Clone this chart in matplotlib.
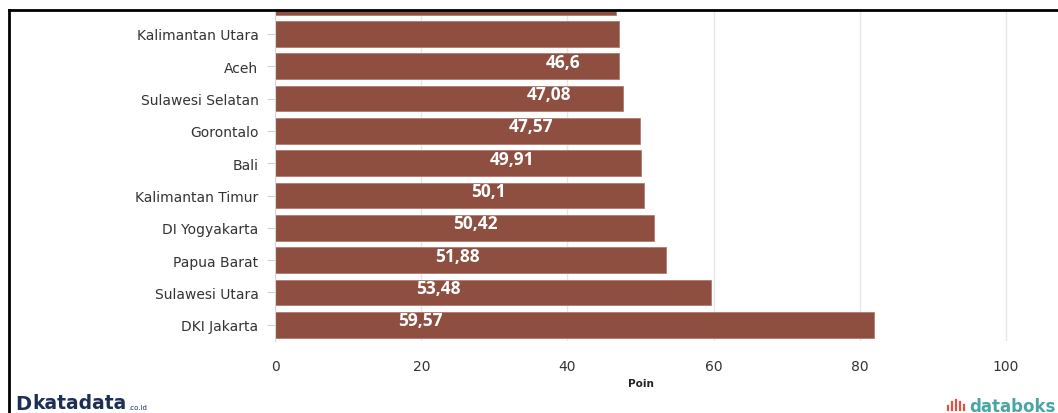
import matplotlib.pyplot as plt
from matplotlib.lines import Line2D
import matplotlib.transforms as mtransforms

# provinces from bottom to top (top one is cut off in the screenshot)
provinces = ['DKI Jakarta', 'Sulawesi Utara', 'Papua Barat', 'DI Yogyakarta',
             'Kalimantan Timur', 'Bali', 'Gorontalo', 'Sulawesi Selatan',
             'Aceh', 'Kalimantan Utara', '']
bar_values = [81.9, 59.6, 53.5, 51.9, 50.5, 50.1, 49.9, 47.6, 47.0, 47.0, 46.7]
value_labels = ['59,57', '53,48', '51,88', '50,42', '50,1', '49,91',
                '47,57', '47,08', '46,6', '', '']
xticks = [0, 20, 40, 60, 80, 100]

bar_color = '#8e4f41'
text_color = '#333333'

fig = plt.figure(figsize=(10.58, 4.14), dpi=100)
ax = fig.add_axes([0.26, 0.174, 0.74, 0.7994])

ypos = list(range(len(provinces)))
ax.barh(ypos, bar_values, height=0.8, color=bar_color,
        edgecolor='#b07a6e', linewidth=0.6, zorder=2)

# value labels, shifted the way the original shows them
for i, lab in enumerate(value_labels):
    if lab:
        ax.text(16.8 + 2.52 * i, i + 0.14, lab, color='white', fontsize=12.5,
                fontweight='bold', family='Open Sans', ha='left', va='center',
                zorder=3)

ax.set_yticks(ypos)
ax.set_yticklabels(provinces, fontsize=10, color=text_color)
ax.set_xticks(xticks)
ax.set_xticklabels([str(t) for t in xticks], fontsize=10, color=text_color)
ax.set_xlim(0, 107.1)
ax.set_ylim(-0.5, 9.74)
ax.tick_params(axis='y', length=6, width=0.8, color='#d0d0d0', pad=6)
ax.tick_params(axis='x', length=0, pad=13)
ax.grid(axis='x', color='#e6e6e6', linewidth=1, zorder=0)
for s in ['top', 'right', 'bottom']:
    ax.spines[s].set_visible(False)
ax.spines['left'].set_color('#d8d8d8')

trans = mtransforms.blended_transform_factory(ax.transData, fig.transFigure)
ax.text(50, 1 - 384 / 414, 'Poin', transform=trans, ha='center', va='center',
        fontsize=7.5, fontweight='bold', color='#222222')

# black frame of the screenshot
fig.add_artist(Line2D([9 / 1058, 1], [1 - 10.5 / 414, 1 - 10.5 / 414],
                      color='black', linewidth=2, transform=fig.transFigure))
fig.add_artist(Line2D([9 / 1058, 9 / 1058], [0, 1 - 10.5 / 414],
                      color='black', linewidth=2, transform=fig.transFigure))

# logos
fig.text(15 / 1058, 1 - 405 / 414, 'D', fontsize=14, fontweight='bold',
         color='#1c2f55', va='center', ha='left')
fig.text(32 / 1058, 1 - 404 / 414, 'katadata', fontsize=13.5, fontweight='bold',
         color='#1c2f55', va='center', ha='left')
fig.text(128 / 1058, 1 - 408 / 414, '.co.id', fontsize=5, color='#1c2f55',
         va='center', ha='left')

for x, h in [(948, 4), (952, 8), (956, 10), (960, 8), (964, 5)]:
    fig.add_artist(Line2D([x / 1058, x / 1058],
                          [1 - 411 / 414, 1 - (411 - h) / 414],
                          color='#e0503e', linewidth=1.6,
                          transform=fig.transFigure))
fig.text(969 / 1058, 1 - 407 / 414, 'databoks', fontsize=12, fontweight='bold',
         color='#4aa6a6', va='center', ha='left')

fig.savefig('out.png', dpi=100)
